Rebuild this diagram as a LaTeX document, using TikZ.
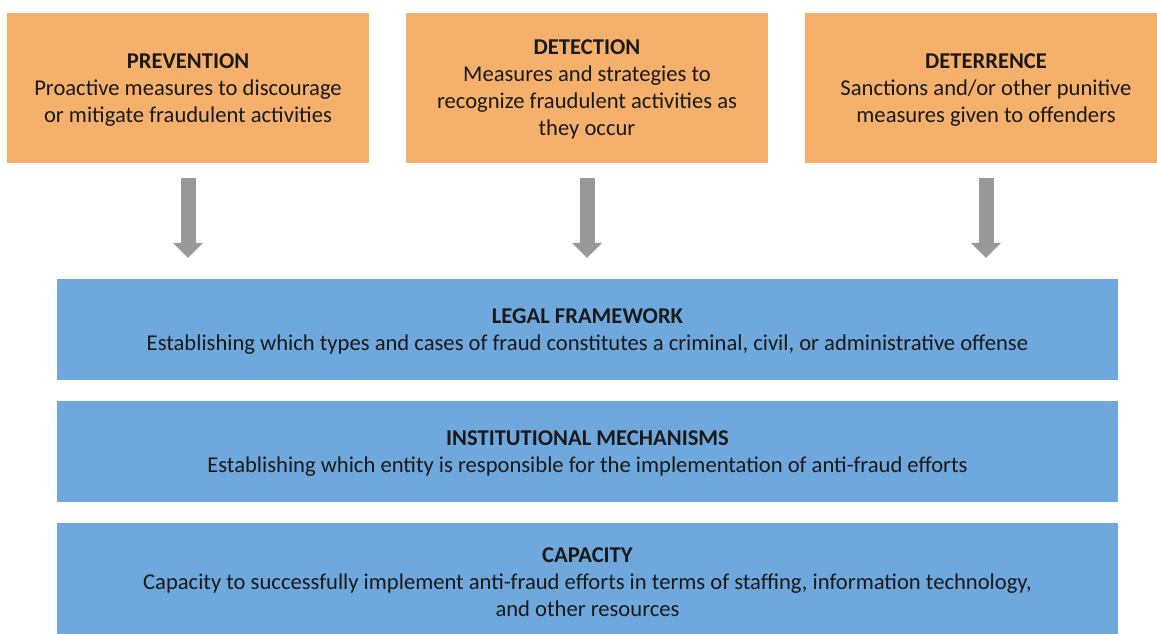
\documentclass[tikz,border=0pt]{standalone}
\usepackage{fontspec}
\setmainfont{Carlito}
\usetikzlibrary{arrows.meta}

\definecolor{pillarfill}{HTML}{F5B06C}
\definecolor{basefill}{HTML}{6FA8DC}
\definecolor{arrowgray}{HTML}{999999}
\definecolor{inktext}{HTML}{1A1A1A}

\begin{document}
\begin{tikzpicture}[x=1pt,y=-1pt]
	\tikzstyle{every node}+=[inner sep=0pt, text=inktext, font=\fontsize{22.6}{27}\selectfont, align=center, text depth=0pt, execute at begin node={\rule{0pt}{24pt}}]
	\tikzstyle{pillar}=[fill=pillarfill, minimum width=362pt, minimum height=150pt]
	\tikzstyle{base}=[fill=basefill, minimum width=1061pt]
	\tikzstyle{bigarrow}=[arrowgray, line width=15pt, -{Triangle[width=29pt,length=15pt]}, shorten <=15pt, shorten >=21pt]
	\useasboundingbox (0,0) rectangle (1157,633);
	\node [pillar] (prevention) at (188,88) {\textbf{PREVENTION}\\Proactive measures to discourage\\or mitigate fraudulent activities};
	\node [pillar] (detection) at (587,88) {\textbf{DETECTION}\\Measures and strategies to\\recognize fraudulent activities as\\they occur};
	\node [pillar] (deterrence) at (986,88) {\textbf{DETERRENCE}\\Sanctions and/or other punitive\\measures given to offenders};
	\node [base, minimum height=101pt] (legal) at (587.5,329.5) {\textbf{LEGAL FRAMEWORK}\\Establishing which types and cases of fraud constitutes a criminal, civil, or administrative offense};
	\node [base, minimum height=101pt] (institutional) at (587.5,451.5) {\textbf{INSTITUTIONAL MECHANISMS}\\Establishing which entity is responsible for the implementation of anti-fraud efforts};
	\node [base, minimum height=118pt] (capacity) at (587.5,582) {\textbf{CAPACITY}\\Capacity to successfully implement anti-fraud efforts in terms of staffing, information technology,\\and other resources};
	\draw [bigarrow] (prevention.south) -- (prevention.south |- legal.north);
	\draw [bigarrow] (detection.south) -- (detection.south |- legal.north);
	\draw [bigarrow] (deterrence.south) -- (deterrence.south |- legal.north);
\end{tikzpicture}
\end{document}
